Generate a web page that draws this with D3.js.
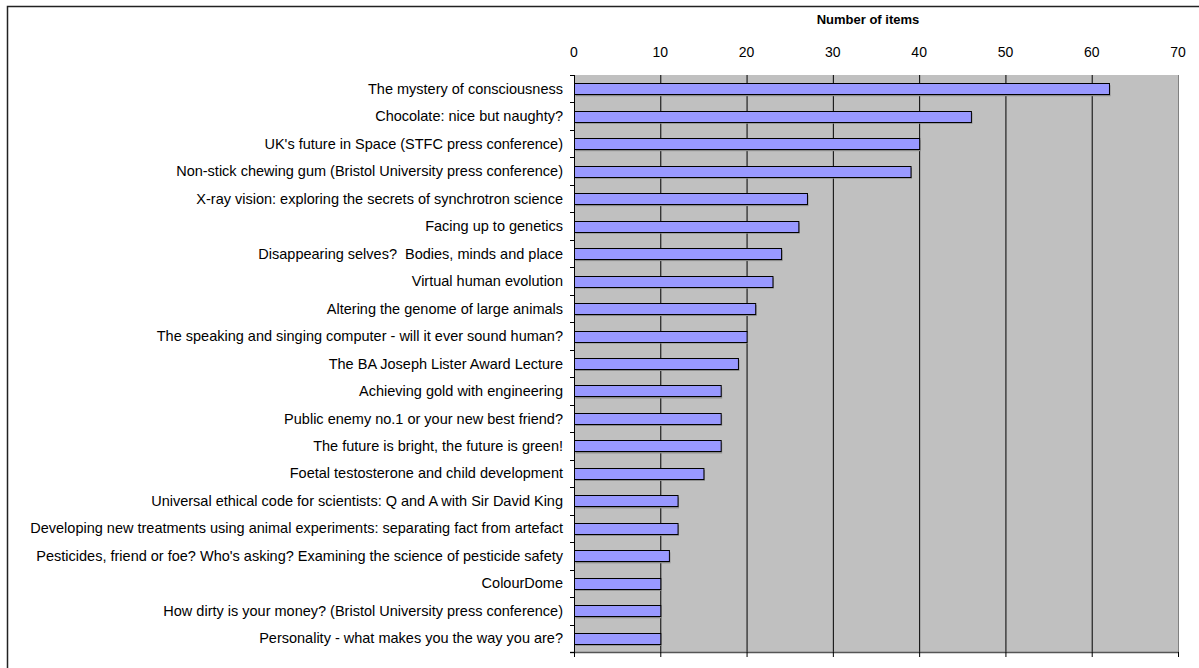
<!DOCTYPE html>
<html lang="en">
<head>
    <meta charset="utf-8" />
    <style>
        body {margin:0; background:#fff;}
        text {font-family: "Liberation Sans", Arial, sans-serif; fill: #000; white-space: pre;}
    </style>
    <script src="https://cdnjs.cloudflare.com/ajax/libs/d3/7.8.5/d3.min.js"></script>
</head>
<body>
    <svg></svg>
</body>
<script>
    var width = 1199,
        height = 668;

    var categories = [
        "The mystery of consciousness",
        "Chocolate: nice but naughty?",
        "UK's future in Space (STFC press conference)",
        "Non-stick chewing gum (Bristol University press conference)",
        "X-ray vision: exploring the secrets of synchrotron science",
        "Facing up to genetics",
        "Disappearing selves?  Bodies, minds and place",
        "Virtual human evolution",
        "Altering the genome of large animals",
        "The speaking and singing computer - will it ever sound human?",
        "The BA Joseph Lister Award Lecture",
        "Achieving gold with engineering",
        "Public enemy no.1 or your new best friend?",
        "The future is bright, the future is green!",
        "Foetal testosterone and child development",
        "Universal ethical code for scientists: Q and A with Sir David King",
        "Developing new treatments using animal experiments: separating fact from artefact",
        "Pesticides, friend or foe? Who's asking? Examining the science of pesticide safety",
        "ColourDome",
        "How dirty is your money? (Bristol University press conference)",
        "Personality - what makes you the way you are?"
    ];
    var items = [62, 46, 40, 39, 27, 26, 24, 23, 21, 20, 19, 17, 17, 17, 15, 12, 12, 11, 10, 10, 10];
    var xTicks = [0, 10, 20, 30, 40, 50, 60, 70];
    var axisTitle = "Number of items";

    var plot = {left: 574, right: 1178, top: 75, bottom: 652};

    var svg = d3.select("svg")
        .attr("width", width)
        .attr("height", height)
        .style("display", "block");

    // outer chart frame (runs off the right and bottom edges)
    svg.append("rect")
        .attr("x", 7.5).attr("y", 6.5)
        .attr("width", width).attr("height", height)
        .attr("fill", "none")
        .attr("stroke", "#222")
        .attr("stroke-width", 1.5);

    var x = d3.scaleLinear().domain([0, 70]).range([plot.left, plot.right]);
    var y = d3.scaleBand().domain(categories).range([plot.top, plot.bottom]).paddingInner(0.6).paddingOuter(0.3);
    var yEdge = d3.scaleLinear().domain([0, categories.length]).range([plot.top, plot.bottom]);

    // grey plot area
    svg.append("rect")
        .attr("x", plot.left).attr("y", plot.top)
        .attr("width", plot.right - plot.left).attr("height", plot.bottom - plot.top)
        .attr("fill", "#c0c0c0");

    // vertical gridlines
    svg.append("g").selectAll("line")
        .data(xTicks.slice(1, -1))
      .enter().append("line")
        .attr("x1", function(d) {return x(d) + 0.5})
        .attr("x2", function(d) {return x(d) + 0.5})
        .attr("y1", plot.top)
        .attr("y2", plot.bottom)
        .attr("stroke", "#000");

    // right & bottom edges of the plot area
    svg.append("line")
        .attr("x1", plot.right + 0.5).attr("x2", plot.right + 0.5)
        .attr("y1", plot.top).attr("y2", plot.bottom + 4)
        .attr("stroke", "#808080");
    svg.append("line")
        .attr("x1", plot.left - 4).attr("x2", plot.right + 1)
        .attr("y1", plot.bottom + 0.5).attr("y2", plot.bottom + 0.5)
        .attr("stroke", "#555").attr("stroke-width", 1.5);

    // bottom tick marks
    svg.append("g").selectAll("line")
        .data(xTicks)
      .enter().append("line")
        .attr("x1", function(d) {return x(d) + 0.5})
        .attr("x2", function(d) {return x(d) + 0.5})
        .attr("y1", plot.bottom)
        .attr("y2", plot.bottom + 5)
        .attr("stroke", "#000");

    // bar shadows
    svg.append("g").selectAll("rect")
        .data(items)
      .enter().append("rect")
        .attr("x", plot.left + 1.5)
        .attr("y", function(d, i) {return y(categories[i]) + 2})
        .attr("width", function(d) {return x(d) - plot.left})
        .attr("height", y.bandwidth())
        .attr("fill", "#8a8a8a");

    // bars
    svg.append("g").selectAll("rect")
        .data(items)
      .enter().append("rect")
        .attr("x", plot.left + 0.5)
        .attr("y", function(d, i) {return Math.round(y(categories[i])) + 0.5})
        .attr("width", function(d) {return x(d) - plot.left})
        .attr("height", Math.round(y.bandwidth()))
        .attr("fill", "#9999ff")
        .attr("stroke", "#000");

    // left axis line and category ticks
    svg.append("line")
        .attr("x1", plot.left + 0.5).attr("x2", plot.left + 0.5)
        .attr("y1", plot.top).attr("y2", plot.bottom + 5)
        .attr("stroke", "#000");
    svg.append("g").selectAll("line")
        .data(d3.range(categories.length + 1))
      .enter().append("line")
        .attr("x1", plot.left - 4)
        .attr("x2", plot.left)
        .attr("y1", function(d) {return Math.round(yEdge(d)) + 0.5})
        .attr("y2", function(d) {return Math.round(yEdge(d)) + 0.5})
        .attr("stroke", "#000");

    // category labels
    svg.append("g").selectAll("text")
        .data(categories)
      .enter().append("text")
        .attr("x", 563)
        .attr("y", function(d) {return y(d) + y.bandwidth() / 2})
        .attr("dy", "0.35em")
        .attr("text-anchor", "end")
        .style("font-size", "14.5px")
        .text(function(d) {return d});

    // top tick labels
    svg.append("g").selectAll("text")
        .data(xTicks)
      .enter().append("text")
        .attr("x", function(d) {return x(d)})
        .attr("y", 52)
        .attr("dy", "0.35em")
        .attr("text-anchor", "middle")
        .style("font-size", "14px")
        .text(function(d) {return d});

    svg.append("text")
        .attr("x", 868)
        .attr("y", 19)
        .attr("dy", "0.35em")
        .attr("text-anchor", "middle")
        .style("font-size", "13px")
        .style("font-weight", "bold")
        .text(axisTitle);
</script>
</html>
